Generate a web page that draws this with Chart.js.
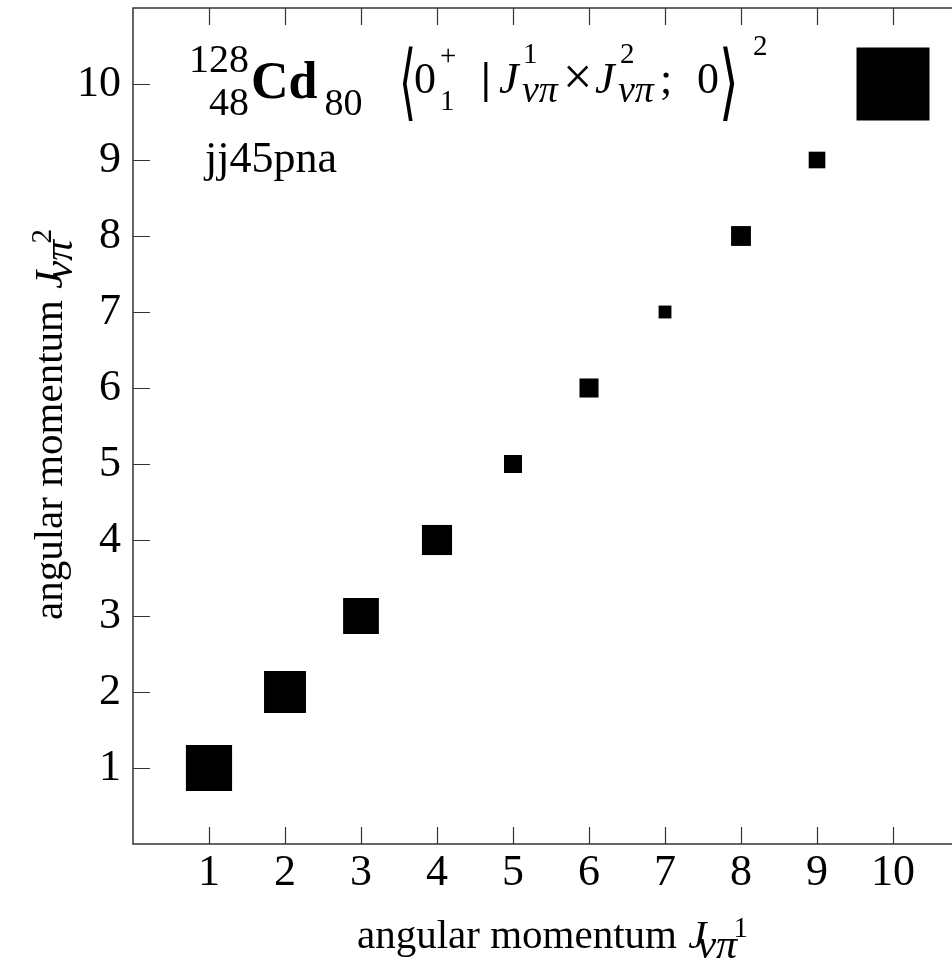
<!DOCTYPE html>
<html>
<head>
<meta charset="utf-8">
<title>128Cd jj45pna</title>
<script src="https://cdn.jsdelivr.net/npm/chart.js@4.4.1/dist/chart.umd.min.js"></script>
<style>
  html, body { margin: 0; padding: 0; background: #fff; overflow: hidden; }
  #wrap { width: 1000px; height: 963px; }
</style>
</head>
<body>
<div id="wrap"><canvas id="grafica" width="1000" height="963"></canvas></div>
<script>
// momentos angulares J1 = J2 (diagonal) y el peso de cada par
const j1 = [1, 2, 3, 4, 5, 6, 7, 8, 9];
const j2 = [1, 2, 3, 4, 5, 6, 7, 8, 9];
const pesos = [0.40, 0.33, 0.24, 0.17, 0.061, 0.068, 0.031, 0.074, 0.052];

// cuadro de referencia (escala) arriba a la derecha
const refX = [10];
const refY = [10];
const refPeso = [1];

const tickValores = [1, 2, 3, 4, 5, 6, 7, 8, 9, 10];

const LADO_MAX = 73; // lado en px del cuadro de peso 1
const SERIF = "'Liberation Serif', 'DejaVu Serif', serif";

function radioDe(peso) {
  // area proporcional al peso; Chart.js dibuja 'rect' con lado = r * sqrt(2)
  return LADO_MAX * Math.sqrt(peso) / Math.SQRT2;
}

function puntos(xs, ys) {
  return xs.map((x, i) => ({ x: x, y: ys[i] }));
}

// texto con super/subindices: cada trozo sigue al anterior,
// o va en su propia x si trae 'x'
function medirTrozo(ctx, t) {
  if (t.sup || t.sub) {
    let w = 0;
    [t.sup, t.sub].forEach(p => {
      if (!p) return;
      ctx.font = p.font;
      w = Math.max(w, ctx.measureText(p.text).width + (p.dx || 0));
    });
    return w + (t.gap || 0);
  }
  ctx.font = t.font;
  return ctx.measureText(t.text).width * (t.sx || 1) + (t.dx || 0) + (t.gap || 0);
}

function pintar(ctx, texto, font, x, y, sx, sy) {
  ctx.font = font;
  if (sx || sy) {
    ctx.save();
    ctx.translate(x, y);
    ctx.scale(sx || 1, sy || 1);
    ctx.fillText(texto, 0, 0);
    ctx.restore();
  } else {
    ctx.fillText(texto, x, y);
  }
}

function dibujarTrozos(ctx, trozos, x, y) {
  let cx = x;
  ctx.textBaseline = 'alphabetic';
  ctx.textAlign = 'left';
  ctx.fillStyle = '#000';
  trozos.forEach(t => {
    if (t.x !== undefined) cx = x + t.x;
    const w = medirTrozo(ctx, t);
    if (t.sup || t.sub) {
      [t.sup, t.sub].forEach(p => {
        if (!p) return;
        ctx.font = p.font;
        let px = cx + (p.dx || 0);
        if (t.derecha) px = cx + w - (t.gap || 0) - ctx.measureText(p.text).width;
        pintar(ctx, p.text, p.font, px, y + p.dy);
      });
    } else {
      pintar(ctx, t.text, t.font, cx + (t.dx || 0), y + (t.dy || 0), t.sx, t.sy);
    }
    cx += w;
  });
}

const F = '41px ' + SERIF;
const FI = 'italic 41px ' + SERIF;
const F44 = '44px ' + SERIF;
const FI44 = 'italic 44px ' + SERIF;
const SUP = '29px ' + SERIF;
const GR = 'italic 42px ' + SERIF;
const GR2 = 'italic 38px ' + SERIF;

// "angular momentum J^n_{νπ}", sale desde x = 0 sobre la linea base
function etiquetaEje(n) {
  return [
    { text: 'angular momentum ', font: F },
    { text: 'J', font: FI, dx: 1 },
    { sub: { text: 'νπ', font: GR, dy: 10, dx: -9 }, sup: { text: n, font: SUP, dy: -11, dx: 27 } }
  ];
}

// textos, marco y marcas de los ejes hacia adentro
const extras = {
  id: 'extras',
  afterDraw(chart) {
    const ctx = chart.ctx;
    const a = chart.chartArea;
    const sx = chart.scales.x;
    const sy = chart.scales.y;
    ctx.save();

    // marco
    ctx.strokeStyle = '#333';
    ctx.lineWidth = 1.5;
    ctx.strokeRect(a.left, a.top, a.right - a.left, a.bottom - a.top);

    // marcas
    ctx.lineWidth = 1.2;
    const largo = 17;
    ctx.beginPath();
    sx.ticks.forEach(t => {
      const px = Math.round(sx.getPixelForValue(t.value)) + 0.5;
      ctx.moveTo(px, a.bottom); ctx.lineTo(px, a.bottom - largo);
      ctx.moveTo(px, a.top); ctx.lineTo(px, a.top + largo);
    });
    sy.ticks.forEach(t => {
      const py = Math.round(sy.getPixelForValue(t.value)) + 0.5;
      ctx.moveTo(a.left, py); ctx.lineTo(a.left + largo, py);
      ctx.moveTo(a.right, py); ctx.lineTo(a.right - largo, py);
    });
    ctx.stroke();

    // titulo de eje x
    dibujarTrozos(ctx, etiquetaEje('1'), 357, 948);

    // titulo de eje y (rotado)
    ctx.save();
    ctx.translate(62, 620);
    ctx.rotate(-Math.PI / 2);
    dibujarTrozos(ctx, etiquetaEje('2'), 0, 0);
    ctx.restore();

    // nucleo
    dibujarTrozos(ctx, [
      { sup: { text: '128', font: '40px ' + SERIF, dy: -26 }, sub: { text: '48', font: '40px ' + SERIF, dy: 17 }, derecha: true, gap: 2 },
      { text: 'Cd', font: 'bold 52px ' + SERIF },
      { text: '80', font: '38px ' + SERIF, dy: 17, dx: 7 }
    ], 189, 98);

    // elemento de matriz <0+_1 | J1 x J2 ; 0>^2, x absolutas
    const B = '200 44px ' + "'DejaVu Sans', " + SERIF;
    dibujarTrozos(ctx, [
      { x: 399, text: '⟨', font: B, dy: 17, sx: 1.0, sy: 1.9 },
      { x: 414, text: '0', font: F44 },
      { x: 440, sup: { text: '+', font: SUP, dy: -28 }, sub: { text: '1', font: SUP, dy: 17 } },
      { x: 481, text: '|', font: 'bold 44px ' + SERIF },
      { x: 499, text: 'J', font: FI44 },
      { x: 523, sup: { text: '1', font: SUP, dy: -30 } },
      { x: 522, text: 'νπ', font: GR2, dy: 9 },
      { x: 563, text: '×', font: '52px ' + SERIF, dy: 1 },
      { x: 595, text: 'J', font: FI44 },
      { x: 620, sup: { text: '2', font: SUP, dy: -30 } },
      { x: 618, text: 'νπ', font: GR2, dy: 9 },
      { x: 660, text: ';', font: F44 },
      { x: 697, text: '0', font: F44 },
      { x: 719, text: '⟩', font: B, dy: 17, sx: 1.15, sy: 1.9 },
      { x: 753, sup: { text: '2', font: SUP, dy: -38 } }
    ], 0, 93);

    // nombre de la interaccion
    dibujarTrozos(ctx, [{ text: 'jj45pna', font: F44 }], 205, 172);

    ctx.restore();
  }
};

const ctx = document.getElementById('grafica').getContext('2d');

new Chart(ctx, {
  type: 'scatter',
  data: {
    datasets: [
      {
        label: 'pesos',
        data: puntos(j1, j2),
        pointStyle: 'rect',
        pointRadius: pesos.map(radioDe),
        pointBackgroundColor: '#000',
        pointBorderWidth: 0
      },
      {
        label: 'escala',
        data: puntos(refX, refY),
        pointStyle: 'rect',
        pointRadius: refPeso.map(radioDe),
        pointBackgroundColor: '#000',
        pointBorderWidth: 0
      }
    ]
  },
  options: {
    responsive: false,
    animation: false,
    events: [],
    layout: { autoPadding: false, padding: { top: 8, right: 31, left: 0, bottom: 0 } },
    plugins: {
      legend: { display: false },
      tooltip: { enabled: false }
    },
    scales: {
      x: {
        type: 'linear',
        min: 0,
        max: 11,
        grid: { display: false, drawTicks: false },
        border: { display: false },
        afterBuildTicks: s => { s.ticks = tickValores.map(v => ({ value: v })); },
        afterFit: s => { s.height = 119; s.paddingLeft = 0; s.paddingRight = 0; },
        ticks: {
          autoSkip: false,
          maxRotation: 0,
          padding: 3,
          color: '#000',
          font: { family: SERIF, size: 44 }
        }
      },
      y: {
        type: 'linear',
        min: 0,
        max: 11,
        grid: { display: false, drawTicks: false },
        border: { display: false },
        afterBuildTicks: s => { s.ticks = tickValores.map(v => ({ value: v })); },
        afterFit: s => { s.width = 133; s.paddingTop = 0; s.paddingBottom = 0; },
        ticks: {
          autoSkip: false,
          padding: 12,
          color: '#000',
          font: { family: SERIF, size: 44 }
        }
      }
    }
  },
  plugins: [extras]
});
</script>
</body>
</html>
